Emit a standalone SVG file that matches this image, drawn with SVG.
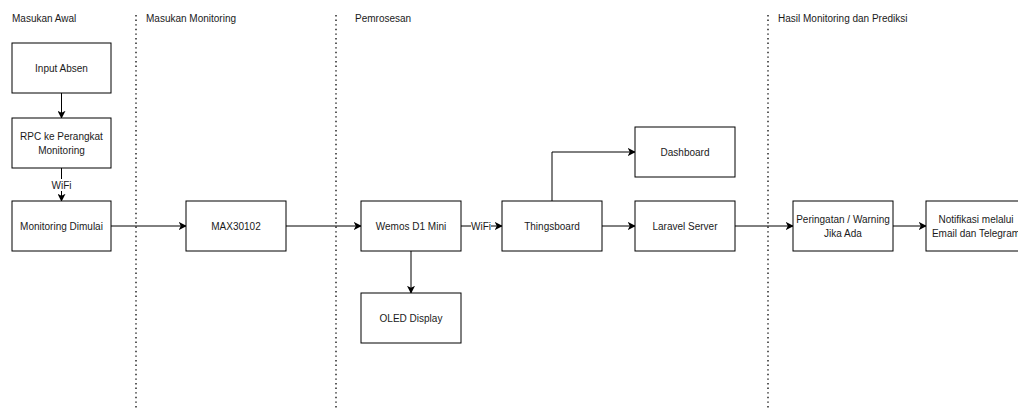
<svg xmlns="http://www.w3.org/2000/svg" width="1018" height="408" viewBox="0 0 1018 408">
<style>
.box{fill:#fff;stroke:#000;stroke-width:1}
.t{font-family:"Liberation Sans",Arial,sans-serif;font-size:10px;fill:#1a1a1a;text-anchor:middle;dominant-baseline:central}
.h{font-family:"Liberation Sans",Arial,sans-serif;font-size:10px;fill:#1a1a1a}
.c{fill:none;stroke:#000;stroke-width:1}
.sep{stroke:#333;stroke-width:1.6;stroke-dasharray:1.4 3.2;fill:none}
.lbl{fill:#fff}
</style>
<defs>
<marker id="a" viewBox="0 0 10 10" refX="9" refY="5" markerWidth="8" markerHeight="8" markerUnits="userSpaceOnUse" orient="auto">
<path d="M0,0 L10,5 L0,10 L2.5,5 Z" fill="#000"/>
</marker>
</defs>
<rect width="1018" height="408" fill="#fff"/>
<g id="separators">
<line class="sep" x1="136" y1="15" x2="136" y2="408"/>
<line class="sep" x1="336" y1="15" x2="336" y2="408"/>
<line class="sep" x1="768" y1="15" x2="768" y2="408"/>
</g>
<g id="headers">
<text class="h" x="12" y="22">Masukan Awal</text>
<text class="h" x="146" y="22">Masukan Monitoring</text>
<text class="h" x="355" y="22">Pemrosesan</text>
<text class="h" x="778" y="22">Hasil Monitoring dan Prediksi</text>
</g>
<g id="connectors">
<path class="c" d="M61.5,93 V118" marker-end="url(#a)"/>
<path class="c" d="M61.5,168 V201" marker-end="url(#a)"/>
<path class="c" d="M111,226 H186" marker-end="url(#a)"/>
<path class="c" d="M286,226 H361" marker-end="url(#a)"/>
<path class="c" d="M461,226 H502" marker-end="url(#a)"/>
<path class="c" d="M411,251 V293" marker-end="url(#a)"/>
<path class="c" d="M552,201 V152 H635" marker-end="url(#a)"/>
<path class="c" d="M602,226 H635" marker-end="url(#a)"/>
<path class="c" d="M735,226 H793" marker-end="url(#a)"/>
<path class="c" d="M893,226 H926" marker-end="url(#a)"/>
<rect class="lbl" x="51" y="179" width="21" height="12"/>
<text class="t" x="61.5" y="185">WiFi</text>
<rect class="lbl" x="471" y="220" width="20" height="12"/>
<text class="t" x="481" y="226">WiFi</text>
</g>
<g id="input-absen"><rect class="box" x="12" y="43" width="99" height="50"/><text class="t" x="61.5" y="68">Input Absen</text></g>
<g id="rpc"><rect class="box" x="12" y="118" width="99" height="50"/><text class="t" x="61.5" y="136">RPC ke Perangkat</text><text class="t" x="61.5" y="150">Monitoring</text></g>
<g id="monitoring-dimulai"><rect class="box" x="12" y="201" width="99" height="50"/><text class="t" x="61.5" y="226">Monitoring Dimulai</text></g>
<g id="max30102"><rect class="box" x="186" y="201" width="100" height="50"/><text class="t" x="236" y="226">MAX30102</text></g>
<g id="wemos"><rect class="box" x="361" y="201" width="100" height="50"/><text class="t" x="411" y="226">Wemos D1 Mini</text></g>
<g id="oled"><rect class="box" x="361" y="293" width="100" height="50"/><text class="t" x="411" y="318">OLED Display</text></g>
<g id="thingsboard"><rect class="box" x="502" y="201" width="100" height="50"/><text class="t" x="552" y="226">Thingsboard</text></g>
<g id="dashboard"><rect class="box" x="635" y="127" width="100" height="50"/><text class="t" x="685" y="152">Dashboard</text></g>
<g id="laravel"><rect class="box" x="635" y="201" width="100" height="50"/><text class="t" x="685" y="226">Laravel Server</text></g>
<g id="peringatan"><rect class="box" x="793" y="201" width="100" height="50"/><text class="t" x="843" y="219">Peringatan / Warning</text><text class="t" x="843" y="233">Jika Ada</text></g>
<g id="notifikasi"><rect class="box" x="926" y="201" width="100" height="50"/><text class="t" x="976" y="219">Notifikasi melalui</text><text class="t" x="976" y="233">Email dan Telegram</text></g>
</svg>
